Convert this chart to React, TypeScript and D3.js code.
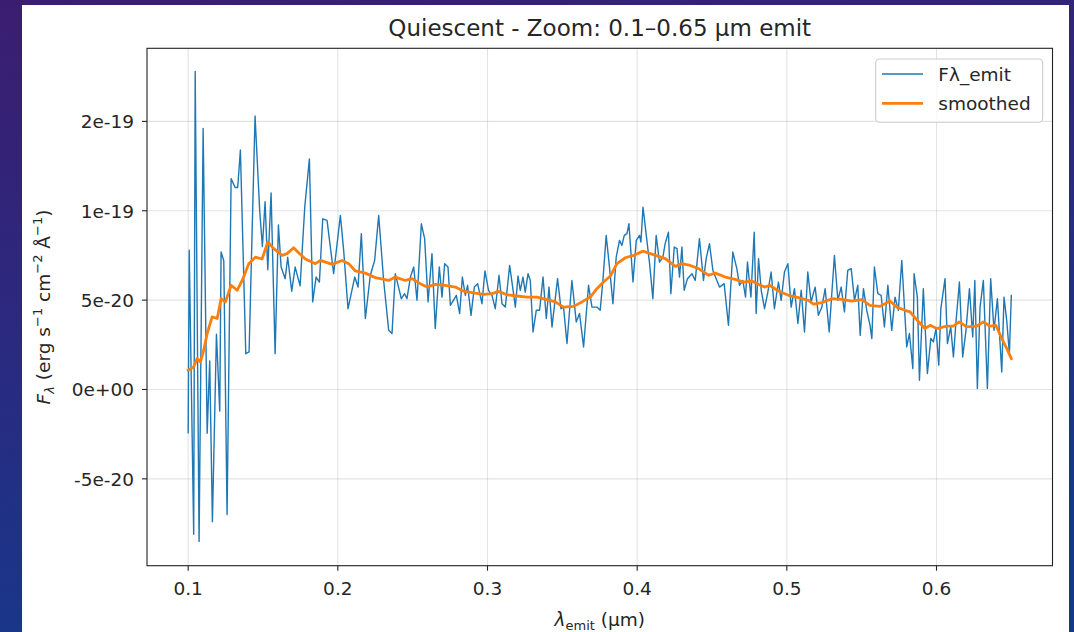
import React from 'react';
import * as d3 from 'd3';

// Flux in units of 1e-20 erg s^-1 cm^-2 Å^-1, wavelength in µm
const blueWl = [
  0.1000, 0.1007, 0.1037, 0.1047, 0.1073, 0.1100, 0.1127, 0.1144, 0.1162, 0.1189,
  0.1211, 0.1220, 0.1238, 0.1260, 0.1287, 0.1314, 0.1331, 0.1349, 0.1385, 0.1407,
  0.1447, 0.1478, 0.1496, 0.1514, 0.1532, 0.1554, 0.1581, 0.1603, 0.1621, 0.1648,
  0.1665, 0.1692, 0.1715, 0.1748,
  0.1779, 0.1810, 0.1832, 0.1855, 0.1877, 0.1899, 0.1928, 0.1972, 0.2017, 0.2039,
  0.2068, 0.2113, 0.2135, 0.2157, 0.2184, 0.2217, 0.2246, 0.2273, 0.2306, 0.2340,
  0.2362, 0.2384, 0.2424, 0.2446, 0.2462, 0.2485, 0.2507, 0.2529, 0.2558, 0.2580,
  0.2603, 0.2629, 0.2651, 0.2678, 0.2696, 0.2714, 0.2736, 0.2752,
  0.2792, 0.2814, 0.2832, 0.2852, 0.2867, 0.2890, 0.2912, 0.2934, 0.2963, 0.2983,
  0.3007, 0.3030, 0.3052, 0.3077, 0.3097, 0.3119, 0.3148, 0.3174, 0.3186, 0.3204,
  0.3219, 0.3237, 0.3252, 0.3271, 0.3286, 0.3304, 0.3326, 0.3348, 0.3371, 0.3393,
  0.3411, 0.3431, 0.3468, 0.3491, 0.3508, 0.3531, 0.3564, 0.3593, 0.3615, 0.3642,
  0.3675, 0.3698, 0.3731, 0.3753,
  0.3771, 0.3793, 0.3815, 0.3838, 0.3860, 0.3882, 0.3898, 0.3914, 0.3932, 0.3945,
  0.3972, 0.3994, 0.4016, 0.4025, 0.4039, 0.4061, 0.4083, 0.4105, 0.4127, 0.4149,
  0.4172, 0.4187, 0.4209, 0.4225, 0.4248, 0.4266, 0.4283, 0.4299, 0.4314, 0.4336,
  0.4366, 0.4388, 0.4416, 0.4443, 0.4461, 0.4483, 0.4506, 0.4528, 0.4550, 0.4581,
  0.4610, 0.4639, 0.4666, 0.4684, 0.4706, 0.4724, 0.4737, 0.4760, 0.4782, 0.4795,
  0.4811,
  0.4829, 0.4851, 0.4873, 0.4895, 0.4917, 0.4944, 0.4962, 0.4984, 0.5007, 0.5029,
  0.5051, 0.5074, 0.5096, 0.5118, 0.5140, 0.5162, 0.5189, 0.5211, 0.5234, 0.5256,
  0.5283, 0.5318, 0.5341, 0.5363, 0.5385, 0.5407, 0.5430, 0.5452, 0.5474, 0.5490,
  0.5512, 0.5534, 0.5556, 0.5568, 0.5585, 0.5608, 0.5630, 0.5652, 0.5675, 0.5701,
  0.5723, 0.5745, 0.5768,
  0.5801, 0.5819, 0.5842, 0.5850, 0.5872, 0.5886, 0.5912, 0.5939, 0.5962, 0.5979,
  0.5997, 0.6015, 0.6029, 0.6057, 0.6073, 0.6095, 0.6113, 0.6131, 0.6153, 0.6175,
  0.6197, 0.6220, 0.6242, 0.6256, 0.6273, 0.6291, 0.6313, 0.6340, 0.6362, 0.6384,
  0.6407, 0.6436, 0.6451, 0.6469, 0.6487, 0.6500,
];
const blueFlux = [
  -2.46, 7.8, -8.1, 17.8, -8.5, 14.6, -2.45, 1.6, -7.4, 3.1,
  -1.2, 7.7, 7.2, -7.0, 11.8, 11.3, 11.3, 13.4, 2.0, 2.1,
  15.3, 10.0, 8.0, 10.5, 6.7, 11.0, 2.0, 9.2, 6.85, 6.2,
  7.4, 5.5, 6.85, 5.8,
  10.2, 12.9, 4.9, 6.29, 6.01, 9.55, 9.46, 6.48, 9.74, 7.78,
  4.52, 6.29, 5.73, 8.72, 3.97, 6.39, 7.22, 9.74, 6.1, 3.31,
  3.13, 6.48, 5.08, 5.36, 5.08, 6.29, 6.85, 4.99, 9.27, 8.44,
  4.9, 7.6, 3.41, 6.85, 5.17, 7.04, 6.85, 4.71,
  5.27, 4.25, 6.29, 5.27, 5.83, 4.15, 5.73, 5.92, 4.8, 6.63,
  5.55, 5.27, 4.52, 6.39, 4.8, 4.61, 6.94, 5.36, 4.61, 6.35,
  5.55, 6.29, 5.45, 6.48, 6.1, 3.22, 4.43, 4.43, 6.29, 3.97,
  5.73, 3.5, 6.2, 4.52, 4.61, 2.57, 6.1, 3.78, 4.25, 2.38,
  5.83, 4.61, 4.61, 4.43,
  6.1, 8.62, 6.85, 4.8, 7.41, 8.34, 8.06, 8.62, 8.72, 9.27,
  6.01, 8.34, 8.62, 8.25, 10.2, 8.62, 7.04, 5.08, 8.62, 7.13,
  7.41, 8.16, 8.8, 5.36, 7.97, 7.88, 6.29, 7.97, 5.55, 6.2,
  6.48, 6.1, 8.44, 6.1, 7.32, 8.16, 6.66, 6.2, 5.73, 5.92,
  3.59, 7.69, 6.76, 5.83, 6.1, 5.17, 7.13, 5.17, 8.8, 4.25,
  7.32,
  5.55, 4.52, 5.45, 6.57, 4.52, 6.01, 4.99, 6.57, 7.04, 4.61,
  5.64, 3.69, 5.55, 3.22, 6.57, 4.9, 5.73, 4.15, 4.61, 5.64,
  3.22, 7.5, 4.99, 5.73, 4.34, 6.66, 6.76, 4.99, 5.83, 3.03,
  5.64, 4.43, 3.59, 2.85, 6.85, 5.36, 5.27, 3.5, 5.83, 3.31,
  5.17, 4.43, 7.22,
  2.38, 3.13, 1.17, 6.48, 5.17, 0.52, 5.64, 0.89, 2.85, 2.66,
  3.41, 1.36, 4.52, 6.2, 2.57, 3.5, 1.82, 3.87, 6.01, 1.82,
  3.31, 5.64, 2.94, 6.1, 0.06, 4.61, 6.1, 0.06, 6.2, 3.31,
  5.08, 0.98, 5.17, 3.87, 2.0, 5.3,
];

const smoothWl = [
  0.1000, 0.1037, 0.1060, 0.1082, 0.1104, 0.1127, 0.1160, 0.1194, 0.1220, 0.1249,
  0.1287, 0.1327, 0.1361, 0.1405, 0.1449, 0.1494, 0.1532, 0.1572, 0.1628, 0.1661,
  0.1705, 0.1745, 0.1783, 0.1850, 0.1884, 0.1962, 0.2028, 0.2073, 0.2117, 0.2184,
  0.2251, 0.2340, 0.2384, 0.2451, 0.2496, 0.2551, 0.2596, 0.2652, 0.2718, 0.2785,
  0.2841, 0.2907, 0.2974, 0.3030, 0.3074, 0.3130, 0.3197, 0.3264, 0.3331, 0.3397,
  0.3453, 0.3508, 0.3575, 0.3631, 0.3687, 0.3731, 0.3775, 0.3821, 0.3865, 0.3921,
  0.3976, 0.4039, 0.4088, 0.4143, 0.4188, 0.4255, 0.4299, 0.4355, 0.4410, 0.4477,
  0.4522, 0.4589, 0.4655, 0.4710, 0.4767, 0.4822, 0.4855, 0.4885, 0.4944, 0.5011,
  0.5078, 0.5144, 0.5178, 0.5234, 0.5301, 0.5368, 0.5434, 0.5501, 0.5555, 0.5622,
  0.5689, 0.5735, 0.5790, 0.5823, 0.5890, 0.5923, 0.5957, 0.6002, 0.6068, 0.6112,
  0.6152, 0.6202, 0.6268, 0.6313, 0.6357, 0.6397, 0.6436, 0.6470, 0.6500,
];
const smoothFlux = [
  1.08, 1.26, 1.73, 1.54, 2.2, 3.13, 4.06, 3.97, 5.08, 4.9,
  5.83, 5.55, 6.1, 7.04, 7.4, 7.3, 8.25, 7.88, 7.5, 7.6,
  7.93, 7.6, 7.3, 7.04, 7.22, 7.0, 7.22, 7.04, 6.63, 6.51,
  6.26, 6.1, 6.29, 6.1, 6.2, 5.92, 5.73, 5.88, 5.83, 5.73,
  5.5, 5.4, 5.32, 5.36, 5.49, 5.3, 5.23, 5.17, 5.17, 5.03,
  4.9, 4.61, 4.65, 4.9, 5.17, 5.64, 6.01, 6.35, 7.04, 7.37,
  7.5, 7.74, 7.6, 7.45, 7.32, 6.89, 7.04, 6.94, 6.76, 6.39,
  6.51, 6.29, 6.16, 6.01, 6.07, 5.83, 5.73, 5.83, 5.51, 5.27,
  5.14, 4.99, 4.77, 4.86, 5.08, 5.04, 4.95, 5.03, 4.71, 4.65,
  4.95, 4.61, 4.43, 4.34, 3.69, 3.41, 3.59, 3.41, 3.54, 3.54,
  3.78, 3.5, 3.54, 3.78, 3.54, 3.59, 2.85, 2.29, 1.73,
];

const xTicks = [0.1, 0.2, 0.3, 0.4, 0.5, 0.6];
const xTickLabels = ['0.1', '0.2', '0.3', '0.4', '0.5', '0.6'];
const yTicks = [-5, 0, 5, 10, 15];
const yTickLabels = ['-5e-20', '0e+00', '5e-20', '1e-19', '2e-19'];
const legendLabels = ['Fλ_emit', 'smoothed'];
const titleText = 'Quiescent - Zoom: 0.1–0.65 µm emit';

const BLUE = '#1f77b4';
const ORANGE = '#ff7f0e';
const FONT = '"DejaVu Sans", sans-serif';

export default function App() {
  const W = 1074, H = 632;
  const L = 147, R = 1052.5, T = 48.3, B = 565.7;
  const x = d3.scaleLinear().domain([0.0725, 0.6775]).range([L, R]);
  const y = d3.scaleLinear().domain([-9.86, 19.09]).range([B, T]);

  const blue = blueWl.map((w, i) => [w, blueFlux[i]] as [number, number]);
  const smooth = smoothWl.map((w, i) => [w, smoothFlux[i]] as [number, number]);
  const line = d3.line<[number, number]>().x(d => x(d[0])).y(d => y(d[1]));

  const tickFont = 18.5;

  return (
    <svg width={W} height={H} style={{ position: 'absolute', left: 0, top: 0, display: 'block' }}
      fontFamily={FONT}>
      <defs>
        <linearGradient id="bg" x1="0" y1="0" x2="0.3" y2="1">
          <stop offset="0" stopColor="#3b1d70" />
          <stop offset="0.5" stopColor="#2a2a80" />
          <stop offset="1" stopColor="#16388a" />
        </linearGradient>
        <clipPath id="plotclip">
          <rect x={L} y={T} width={R - L} height={B - T} />
        </clipPath>
      </defs>
      <rect x={0} y={0} width={W} height={H} fill="url(#bg)" />
      <rect x={22} y={5} width={1047} height={H - 5} fill="#ffffff" />

      {/* grid */}
      <g stroke="#b0b0b0" strokeOpacity={0.35} strokeWidth={1.1}>
        {xTicks.map(t => (
          <line key={'gx' + t} x1={x(t)} x2={x(t)} y1={T} y2={B} />
        ))}
        {yTicks.map(t => (
          <line key={'gy' + t} x1={L} x2={R} y1={y(t)} y2={y(t)} />
        ))}
      </g>

      {/* data */}
      <g clipPath="url(#plotclip)">
        <path d={line(blue) || ''} fill="none" stroke={BLUE} strokeWidth={1.4} strokeLinejoin="round" />
        <path d={line(smooth) || ''} fill="none" stroke={ORANGE} strokeWidth={2.8} strokeLinejoin="round" strokeLinecap="square" />
      </g>

      {/* frame */}
      <rect x={L} y={T} width={R - L} height={B - T} fill="none" stroke="#222" strokeWidth={1.1} />

      {/* x ticks */}
      {xTicks.map((t, i) => (
        <g key={'xt' + t}>
          <line x1={x(t)} x2={x(t)} y1={B} y2={B + 5} stroke="#222" strokeWidth={1.1} />
          <text x={x(t)} y={595} textAnchor="middle" fontSize={tickFont} fill="#262626">{xTickLabels[i]}</text>
        </g>
      ))}
      {/* y ticks */}
      {yTicks.map((t, i) => (
        <g key={'yt' + t}>
          <line x1={L - 5} x2={L} y1={y(t)} y2={y(t)} stroke="#222" strokeWidth={1.1} />
          <text x={L - 13} y={y(t) + 6.8} textAnchor="end" fontSize={tickFont} fill="#262626">{yTickLabels[i]}</text>
        </g>
      ))}

      {/* title */}
      <text x={(L + R) / 2} y={36} textAnchor="middle" fontSize={23} fill="#262626">{titleText}</text>

      {/* x label */}
      <text x={(L + R) / 2} y={626} textAnchor="middle" fontSize={tickFont} fill="#262626">
        <tspan fontStyle="italic">λ</tspan>
        <tspan fontSize={13} dy={4}>emit</tspan>
        <tspan dy={-4}> (µm)</tspan>
      </text>

      {/* y label */}
      <text transform={`translate(50,${(T + B) / 2}) rotate(-90)`} textAnchor="middle" fontSize={tickFont} fill="#262626">
        <tspan fontStyle="italic">F</tspan>
        <tspan fontStyle="italic" fontSize={13} dy={4}>λ</tspan>
        <tspan dy={-4}> (erg s</tspan>
        <tspan fontSize={13} dy={-8}>−1</tspan>
        <tspan dy={8}> cm</tspan>
        <tspan fontSize={13} dy={-8}>−2</tspan>
        <tspan dy={8}> Å</tspan>
        <tspan fontSize={13} dy={-8}>−1</tspan>
        <tspan dy={8}>)</tspan>
      </text>

      {/* legend */}
      <g>
        <rect x={875.7} y={59} width={167} height={63.3} rx={4} fill="#ffffff" fillOpacity={0.8} stroke="#cccccc" strokeWidth={1.1} />
        <line x1={882} x2={923} y1={74} y2={74} stroke={BLUE} strokeWidth={1.4} />
        <line x1={882} x2={923} y1={103.3} y2={103.3} stroke={ORANGE} strokeWidth={2.8} />
        <text x={938.3} y={80.7} fontSize={tickFont} fill="#262626">{legendLabels[0]}</text>
        <text x={938.3} y={110} fontSize={tickFont} fill="#262626">{legendLabels[1]}</text>
      </g>
    </svg>
  );
}
